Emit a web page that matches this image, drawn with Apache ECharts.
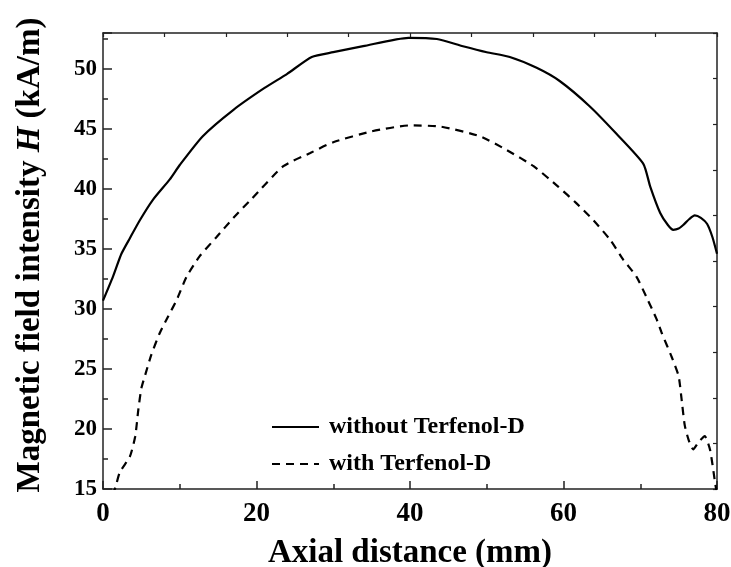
<!DOCTYPE html>
<html>
<head>
<meta charset="utf-8">
<script src="https://cdn.jsdelivr.net/npm/echarts@6/dist/echarts.min.js"></script>
<style>
  html, body { margin: 0; padding: 0; background: #fff; }
  #chart { width: 731px; height: 567px; }
</style>
</head>
<body>
<div id="chart"></div>
<script>
const xWithout = [0, 1.3, 2.4, 3.5, 4.8, 6.5, 8.7, 10, 13, 17, 21, 24, 27.2, 30, 33.9, 39.8, 43.5, 46.9, 50, 53, 56.5, 59.5, 63.4, 66.9, 70.4, 71.3, 72.6, 73.6, 74.3, 75, 75.6, 76.4, 77.1, 77.9, 78.7, 79.4, 80]
const hWithout = [30.7, 32.7, 34.6, 35.9, 37.4, 39.1, 40.8, 42, 44.4, 46.6, 48.4, 49.6, 51, 51.4, 51.9, 52.6, 52.5, 51.9, 51.4, 51, 50.1, 49, 46.9, 44.6, 42.1, 40.2, 38, 37, 36.6, 36.7, 37, 37.5, 37.8, 37.6, 37.1, 36, 34.6]

const xWith = [1.2, 1.6, 2.2, 3.5, 4.2, 4.6, 5, 5.5, 6.3, 7.4, 8.5, 9.6, 10.9, 12.6, 14.8, 17, 19.4, 23.5, 27, 30, 35, 40, 44, 49.1, 52.6, 56.1, 59.3, 61.7, 63.9, 66.1, 67.8, 69.5, 70.8, 72.1, 72.8, 74.1, 75, 75.4, 75.8, 76.3, 76.9, 77.6, 78.4, 79.1, 79.7, 80]
const hWith = [14.5, 15.1, 16.4, 17.7, 19.4, 21.6, 23.4, 24.5, 26.2, 28, 29.4, 30.75, 32.7, 34.4, 36, 37.6, 39.2, 41.9, 43, 43.9, 44.8, 45.3, 45.2, 44.4, 43.25, 41.9, 40.2, 38.8, 37.4, 35.75, 34.1, 32.7, 31, 29.2, 28, 26, 24.4, 22.4, 20.3, 19.1, 18.3, 18.9, 19.4, 18.25, 15.75, 14.5]

const xTicks = { min: 0, max: 80, interval: 20 }
const hTicks = { min: 15, max: 53, interval: 5 }

const font = 'Liberation Serif'

function zip(xs, ys) {
  return xs.map((x, i) => [x, ys[i]])
}

const chart = echarts.init(document.getElementById('chart'))

const axisLine = { show: true, lineStyle: { color: '#222', width: 1.5 } }

chart.setOption({
  animation: false,
  grid: {
    left: 103,
    right: 14,
    top: 33,
    bottom: 78,
    outerBoundsMode: 'none'
  },
  legend: {
    orient: 'vertical',
    left: 266,
    top: 410,
    itemWidth: 47,
    itemHeight: 14,
    itemGap: 13,
    itemStyle: { opacity: 0 },
    textStyle: {
      fontFamily: font,
      fontWeight: 'bold',
      fontSize: 24,
      lineHeight: 24,
      color: '#000',
      padding: [0, 0, 0, 5]
    },
    data: ['without Terfenol-D', 'with Terfenol-D']
  },
  xAxis: [{
    type: 'value',
    position: 'bottom',
    min: xTicks.min,
    max: xTicks.max,
    interval: xTicks.interval,
    axisLine: axisLine,
    axisTick: { inside: true, length: 8, lineStyle: { color: '#222', width: 1.5 } },
    minorTick: { show: true, splitNumber: 2, length: 5, lineStyle: { color: '#222', width: 1.5 } },
    splitLine: { show: false },
    axisLabel: { fontFamily: font, fontWeight: 'bold', fontSize: 27, color: '#000', margin: 12 },
    name: 'Axial distance (mm)',
    nameLocation: 'middle',
    nameGap: 48,
    nameTextStyle: { fontFamily: font, fontWeight: 'bold', fontSize: 33, color: '#000' }
  }, {
    // top frame, ticks only
    type: 'value',
    position: 'top',
    min: 0,
    max: 10,
    interval: 1,
    axisLine: axisLine,
    axisTick: { inside: true, length: 4, lineStyle: { color: '#222', width: 1.2 } },
    axisLabel: { show: false },
    splitLine: { show: false }
  }],
  yAxis: [{
    type: 'value',
    position: 'left',
    min: hTicks.min,
    max: hTicks.max,
    interval: hTicks.interval,
    axisLine: axisLine,
    axisTick: { inside: true, length: 9, lineStyle: { color: '#222', width: 1.5 } },
    splitLine: { show: false },
    axisLabel: {
      fontFamily: font, fontWeight: 'bold', fontSize: 23, color: '#000', margin: 6,
      formatter: v => (v % 5 === 0 ? v : '')
    },
    name: '{a|Magnetic field intensity }{b|H}{a| (kA/m)}',
    nameLocation: 'middle',
    nameGap: 56,
    nameTextStyle: {
      padding: [0, 0, 0, 12],
      rich: {
        a: { fontFamily: font, fontWeight: 'bold', fontSize: 33, color: '#000' },
        b: { fontFamily: font, fontWeight: 'bold', fontStyle: 'italic', fontSize: 33, color: '#000' }
      }
    }
  }, {
    // minor ticks on the left
    type: 'value',
    position: 'left',
    min: hTicks.min,
    max: hTicks.max,
    interval: 2.5,
    axisLine: { show: false },
    axisTick: { inside: true, length: 5, lineStyle: { color: '#222', width: 1.5 } },
    axisLabel: { show: false },
    splitLine: { show: false }
  }, {
    // right frame, ticks only
    type: 'value',
    position: 'right',
    min: 0,
    max: 10,
    interval: 1,
    axisLine: axisLine,
    axisTick: { inside: true, length: 4, lineStyle: { color: '#222', width: 1.2 } },
    axisLabel: { show: false },
    splitLine: { show: false }
  }],
  series: [{
    name: 'without Terfenol-D',
    type: 'line',
    xAxisIndex: 0,
    yAxisIndex: 0,
    symbol: 'none',
    smooth: 0.2,
    lineStyle: { color: '#000', width: 2.2, type: 'solid' },
    itemStyle: { color: '#000' },
    data: zip(xWithout, hWithout)
  }, {
    name: 'with Terfenol-D',
    type: 'line',
    xAxisIndex: 0,
    yAxisIndex: 0,
    symbol: 'none',
    smooth: 0.2,
    lineStyle: { color: '#000', width: 2.2, type: [8, 6] },
    itemStyle: { color: '#000' },
    data: zip(xWith, hWith)
  }]
})
</script>
</body>
</html>
